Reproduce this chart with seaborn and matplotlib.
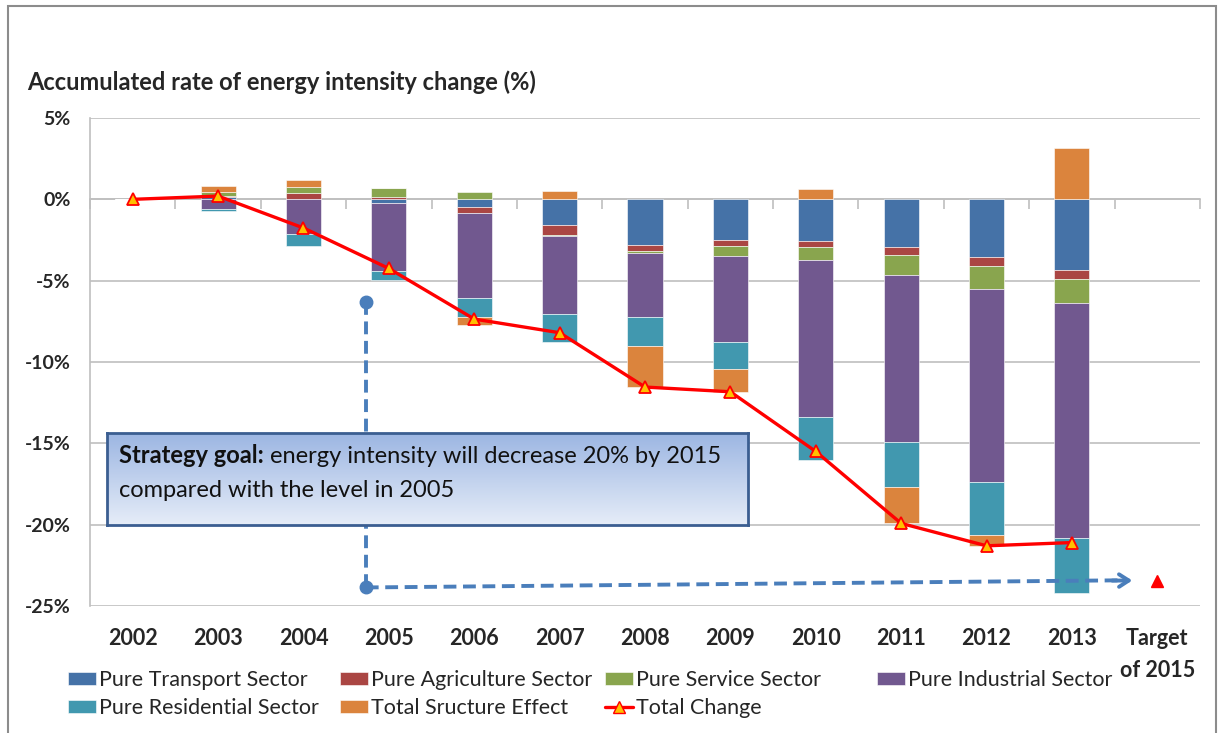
import numpy as np
import pandas as pd
import matplotlib
matplotlib.use("Agg")
import matplotlib.pyplot as plt
import seaborn as sns
from matplotlib.patches import Rectangle
from matplotlib.lines import Line2D

# data (%)
years = ["2002", "2003", "2004", "2005", "2006", "2007", "2008",
         "2009", "2010", "2011", "2012", "2013", "Target\nof 2015"]
transport   = [0, 0.15, 0.0, -0.20, -0.49, -1.60, -2.79, -2.47, -2.55, -2.92, -3.54, -4.34]
agriculture = [0, 0.08, 0.39, 0.12, -0.37, -0.57, -0.39, -0.37, -0.41, -0.49, -0.55, -0.57]
service     = [0, 0.25, 0.37, 0.55, 0.47, -0.10, -0.12, -0.62, -0.80, -1.23, -1.41, -1.47]
industrial  = [0, -0.60, -2.15, -4.20, -5.19, -4.76, -3.91, -5.33, -9.63, -10.25, -11.90, -14.44]
residential = [0, -0.12, -0.72, -0.55, -1.19, -1.72, -1.83, -1.67, -2.65, -2.82, -3.23, -3.39]
structure   = [0, 0.33, 0.41, 0.00, -0.51, 0.53, -2.50, -1.38, 0.62, -2.21, -0.67, 3.13]
total_change = [0, 0.2, -1.76, -4.25, -7.36, -8.2, -11.54, -11.83, -15.5, -19.92, -21.3, -21.1]
target_2015 = -23.45

series_names = ["Pure Transport Sector", "Pure Agriculture Sector", "Pure Service Sector",
                "Pure Industrial Sector", "Pure Residential Sector", "Total Sructure Effect"]
colors = ["#4572A7", "#AA4643", "#89A54E", "#71588F", "#4198AF", "#DB843D"]

df = pd.DataFrame(dict(zip(series_names, [transport, agriculture, service,
                                          industrial, residential, structure])))
df["year"] = years[:12]

sns.set_style("white")
plt.rcParams["font.family"] = ["Lato", "DejaVu Sans"]

fig = plt.figure(figsize=(12.18, 7.33), dpi=100)
ax = fig.add_axes([90 / 1218, 1 - 606 / 733, 1110 / 1218, 488 / 733])

x = np.arange(len(years))
xb = x[:12]

# stacked bars: positives up from 0, negatives down from 0
pos_base = np.zeros(12)
neg_base = np.zeros(12)
handles = {}
for name, col in zip(series_names, colors):
    vals = df[name].to_numpy()
    bottoms = np.where(vals >= 0, pos_base, neg_base)
    b = ax.bar(xb, vals, bottom=bottoms, width=0.41, color=col,
               edgecolor="white", linewidth=0.4, zorder=2)
    handles[name] = b
    pos_base += np.where(vals >= 0, vals, 0)
    neg_base += np.where(vals < 0, vals, 0)

# total change line
sns.lineplot(x=xb, y=total_change, ax=ax, color="#FF0000", linewidth=2.4,
             marker="^", markersize=9, markerfacecolor="#FFC000",
             markeredgecolor="#FF0000", markeredgewidth=1.3, zorder=4)
ax.plot([x[12]], [target_2015], linestyle="none", marker="^", markersize=8,
        color="#FF0000", zorder=4)

# axes styling
ax.set_xlim(-0.5, 12.5)
ax.set_ylim(-25, 5)
yt = [5, 0, -5, -10, -15, -20, -25]
ax.set_yticks(yt)
ax.set_yticklabels([f"{v}%" for v in yt], fontweight="bold", fontsize=14)
ax.set_xticks(x)
ax.set_xticklabels(years, fontweight="bold", fontsize=15.5, linespacing=1.62)
ax.tick_params(axis="x", length=0, pad=16)
ax.tick_params(axis="y", length=7, color="#BFBFBF", direction="out", pad=7)
ax.grid(axis="y", color="#BFBFBF", linewidth=1.2)
ax.set_axisbelow(True)
for s in ["top", "right", "bottom"]:
    ax.spines[s].set_visible(False)
ax.spines["left"].set_color("#BFBFBF")
ax.spines["left"].set_linewidth(1.2)

# category axis at 0 with boundary ticks
sec = ax.secondary_xaxis(25 / 30)
sec.set_xticks(np.arange(-0.5, 13, 1.0))
sec.set_xticklabels([])
sec.tick_params(axis="x", direction="in", length=7, color="#BFBFBF", width=1.2)
sec.spines["top"].set_color("#BFBFBF")
sec.spines["top"].set_linewidth(1.2)
sec.spines["bottom"].set_visible(False)

# dashed arrow (goal reference)
arrow_col = "#4A7EBB"
vx, vy_top, vy_bot = 2.73, -6.33, -23.86
hx_end, hy_end = 11.74, -23.43
ax.plot([vx, vx], [vy_top, vy_bot], color=arrow_col, lw=2.8, dashes=(3.3, 1.7), zorder=3)
ax.plot([vx, hx_end - 0.15], [vy_bot, hy_end + 0.01], color=arrow_col, lw=2.8,
        dashes=(3.3, 1.7), zorder=3)
ax.plot([vx, vx], [vy_top, vy_bot], linestyle="none", marker="o", markersize=9,
        color=arrow_col, zorder=3)
ax.annotate("", xy=(hx_end, hy_end), xytext=(hx_end - 0.3, hy_end - 0.01),
            arrowprops=dict(arrowstyle="->,head_length=0.7,head_width=0.45",
                            color=arrow_col, lw=2.8), zorder=3)

# strategy goal box with gradient
bax = fig.add_axes([107 / 1218, 1 - 525 / 733, 641 / 1218, 92 / 733])
grad = np.linspace(0, 1, 256).reshape(-1, 1)
top_c = np.array([0x9B, 0xB5, 0xE2]) / 255
bot_c = np.array([0xE6, 0xED, 0xF8]) / 255
img = top_c + (bot_c - top_c) * grad[:, :, None]
bax.imshow(img, aspect="auto", extent=[0, 1, 0, 1], origin="upper")
bax.set_xlim(0, 1)
bax.set_ylim(0, 1)
bax.set_xticks([])
bax.set_yticks([])
for s in bax.spines.values():
    s.set_color("#3B5E91")
    s.set_linewidth(2)
t1 = bax.text(0.019, 0.76, "Strategy goal:", fontweight="bold", fontsize=17,
              va="center", ha="left", color="#111111")
bax.annotate(" energy intensity will decrease 20% by 2015", xy=(1, 0), xycoords=t1,
             va="bottom", ha="left", fontsize=17, color="#111111")
bax.text(0.019, 0.38, "compared with the level in 2005", fontsize=17,
         va="center", ha="left", color="#111111")

# title
fig.text(27 / 1218, 1 - 82 / 733, "Accumulated rate of energy intensity change (%)",
         fontweight="bold", fontsize=17, va="center", ha="left")

# legends, one per column as in the original
line_handle = Line2D([], [], color="#FF0000", lw=2.4, marker="^", markersize=9,
                     markerfacecolor="#FFC000", markeredgecolor="#FF0000")
legend_cols = [
    (68, [handles[series_names[0]], handles[series_names[4]]], [series_names[0], series_names[4]]),
    (340, [handles[series_names[1]], handles[series_names[5]]], [series_names[1], series_names[5]]),
    (605, [handles[series_names[2]], line_handle], [series_names[2], "Total Change"]),
    (877, [handles[series_names[3]]], [series_names[3]]),
]
for lx, hs, ls in legend_cols:
    fig.legend(hs, ls, loc="upper left", bbox_to_anchor=(lx / 1218, 1 - 670 / 733),
               frameon=False, fontsize=15.5, borderpad=0, borderaxespad=0,
               handlelength=1.3, handleheight=0.6, handletextpad=0.15,
               labelspacing=0.38)

# outer chart border
fig.patches.append(Rectangle((8 / 1218, -0.02), 1208 / 1218, 1 - 6 / 733 + 0.02,
                             transform=fig.transFigure, fill=False,
                             edgecolor="#8C8C8C", linewidth=1.5))

fig.savefig("out.png", dpi=100)
